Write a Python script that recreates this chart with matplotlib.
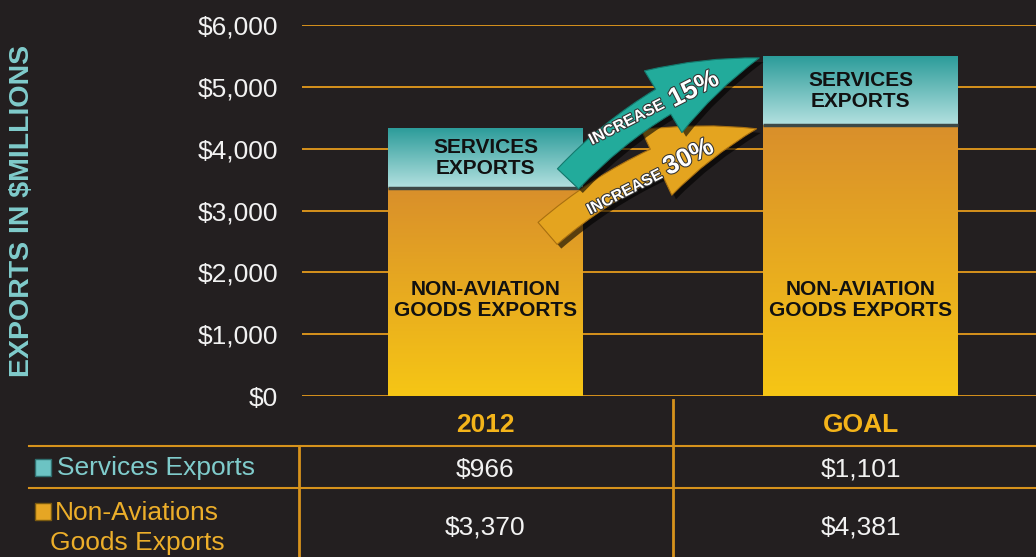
import matplotlib
matplotlib.use("Agg")
import matplotlib.pyplot as plt
import matplotlib.patheffects as pe
from matplotlib.colors import LinearSegmentedColormap
from matplotlib.patches import FancyArrowPatch, Rectangle
from matplotlib.lines import Line2D
from matplotlib.transforms import blended_transform_factory
import numpy as np

# data (millions of $)
categories = ["2012", "GOAL"]
goods = [3370, 4381]
services = [966, 1101]
goods_labels = ["$3,370", "$4,381"]
services_labels = ["$966", "$1,101"]
yticks = [0, 1000, 2000, 3000, 4000, 5000, 6000]

BG = "#231f20"
GRID = "#d6921c"
TEAL_TXT = "#80cccc"
GOLD_TXT = "#ecae2a"
HEAD_TXT = "#f4b41a"
FONT = ["Liberation Sans", "DejaVu Sans"]

W, H = 1036, 557
fig = plt.figure(figsize=(W / 100, H / 100), dpi=100, facecolor=BG)
ax = fig.add_axes([302 / W, 1 - 396 / H, (W - 302) / W, (396 - 25) / H])
ax.set_facecolor(BG)

def fy(py):
    return 1 - py / H

x = np.arange(len(categories))
width = 0.52

bars_g = ax.bar(x, goods, width, color="#e2a326", zorder=2)
bars_s = ax.bar(x, services, width, bottom=goods, color="#6cc3c3", zorder=2)

# gradient fills on top of the bars
def shade(patch, c_bot, c_top):
    cm = LinearSegmentedColormap.from_list("g", [c_bot, c_top])
    x0, y0 = patch.get_x(), patch.get_y()
    ax.imshow(np.linspace(0, 1, 256).reshape(-1, 1), cmap=cm, origin="lower",
              extent=[x0, x0 + patch.get_width(), y0, y0 + patch.get_height()],
              aspect="auto", zorder=2.5, interpolation="bicubic")

for p in bars_g:
    shade(p, "#f6c615", "#d98f2b")
for p in bars_s:
    shade(p, "#b4e1e0", "#2c9c9a")

# dark seam between the two segments
ax.hlines(goods, x - width / 2, x + width / 2, color="#3d4846", lw=2.5, zorder=3)

for xi, g, s in zip(x, goods, services):
    ax.text(xi, g + s / 2, "SERVICES\nEXPORTS", ha="center", va="center",
            fontsize=15, fontweight="bold", family=FONT, color="#111111",
            linespacing=1.12, zorder=4)
    ax.text(xi, 1550, "NON-AVIATION\nGOODS EXPORTS", ha="center", va="center",
            fontsize=15, fontweight="bold", family=FONT, color="#111111",
            linespacing=1.12, zorder=4)

ax.set_xlim((302 - 485.5) / 375, (1036 - 485.5) / 375)
ax.set_ylim(0, 6000)
ax.set_yticks(yticks)
ax.set_yticklabels(["${:,.0f}".format(v) for v in yticks], family=FONT,
                   fontsize=19, color="#f2f2f2")
ax.tick_params(axis="y", length=0, pad=17)
ax.set_xticks([])
for sp in ax.spines.values():
    sp.set_visible(False)
ax.yaxis.grid(True, color=GRID, lw=1.4)
ax.set_axisbelow(True)

# arrows from the 2012 bar to the goal bar
shadow = [pe.SimplePatchShadow(offset=(3, -3), shadow_rgbFace="black", alpha=0.6), pe.Normal()]
style = "simple,head_length=76,head_width=52,tail_width=21"
arr_t = FancyArrowPatch((0.215, 3480), (0.737, goods[1] + services[1]),
                        connectionstyle="arc3,rad=-0.13", arrowstyle=style,
                        mutation_scale=1, fc="#22ab9b", ec="#137a6e", lw=0.8,
                        zorder=5, path_effects=shadow)
arr_o = FancyArrowPatch((0.16, 2600), (0.73, goods[1] - 50),
                        connectionstyle="arc3,rad=-0.13", arrowstyle=style,
                        mutation_scale=1, fc="#e4a41f", ec="#a86f10", lw=0.8,
                        zorder=5, path_effects=shadow)
ax.add_patch(arr_o)
ax.add_patch(arr_t)

for (xi, yi, s, fs) in [(0.377, 4430, "INCREASE", 11.5), (0.556, 4960, "15%", 19),
                        (0.372, 3300, "INCREASE", 11.5), (0.542, 3860, "30%", 19)]:
    ax.text(xi, yi, s, rotation=27, ha="center", va="center", fontsize=fs,
            fontweight="bold", family=FONT, color="white", zorder=6,
            path_effects=[pe.withStroke(linewidth=1.5, foreground="#333333")])

# table under the chart
bt = blended_transform_factory(ax.transData, fig.transFigure)
for yl in [446, 488]:
    fig.add_artist(Line2D([29 / W, 1], [fy(yl), fy(yl)], color=GRID, lw=1.5))
fig.add_artist(Line2D([299 / W, 299 / W], [fy(446), 0], color=GRID, lw=2))
ax.plot([0.5, 0.5], [fy(400), 0], color=GRID, lw=2, transform=bt, clip_on=False)

for xi, c, sv, gv in zip(x, categories, services_labels, goods_labels):
    ax.text(xi, fy(425), c, transform=bt, ha="center", va="center", fontsize=19,
            fontweight="bold", family=FONT, color=HEAD_TXT)
    ax.text(xi, fy(470), sv, transform=bt, ha="center", va="center", fontsize=19,
            family=FONT, color="#f2f2f2")
    ax.text(xi, fy(527), gv, transform=bt, ha="center", va="center", fontsize=19,
            family=FONT, color="#f2f2f2")

# legend squares + row labels
fig.add_artist(Rectangle((35 / W, fy(476)), 16 / W, 17 / H, transform=fig.transFigure,
                         fc="#6cc3c3", ec="#2f6f6f", lw=1))
fig.add_artist(Rectangle((35 / W, fy(520)), 16 / W, 17 / H, transform=fig.transFigure,
                         fc="#e6a624", ec="#7a5a10", lw=1))
fig.text(57 / W, fy(468), "Services Exports", ha="left", va="center", fontsize=19,
         family=FONT, color=TEAL_TXT)
fig.text(55 / W, fy(513), "Non-Aviations", ha="left", va="center", fontsize=19,
         family=FONT, color=GOLD_TXT)
fig.text(50 / W, fy(543), "Goods Exports", ha="left", va="center", fontsize=19,
         family=FONT, color=GOLD_TXT)

fig.text(22 / W, fy(211), "EXPORTS IN $MILLIONS", rotation=90, ha="center", va="center",
         fontsize=20.5, fontweight="bold", family=FONT, color=TEAL_TXT)

fig.savefig("out.png", dpi=100, facecolor=BG)
